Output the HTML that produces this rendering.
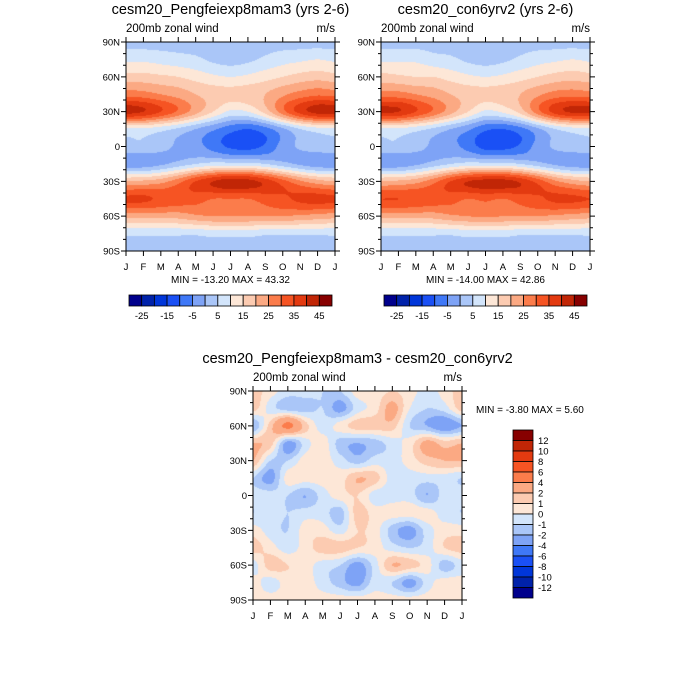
<!DOCTYPE html>
<html><head><meta charset="utf-8"><style>
body{margin:0;background:#fff;}
#wrap{position:relative;width:700px;height:700px;font-family:"Liberation Sans",sans-serif;}
canvas{position:absolute;left:0;top:0;}
svg{position:absolute;left:0;top:0;}
</style></head><body>
<div id="wrap">
<canvas id="cv" width="700" height="700"></canvas>
<svg id="sv" width="700" height="700"></svg>
</div>
<script>
// ---- data ----
const months = ["J","F","M","A","M","J","J","A","S","O","N","D","J"];
const latLabels = ["90N","60N","30N","0","30S","60S","90S"];
const levelsTop = [-25,-20,-15,-10,-5,0,5,10,15,20,25,30,35,40,45];
const levelsDiff = [-12,-10,-8,-6,-4,-2,-1,0,1,2,4,6,8,10,12];
const topBarLabels = ["-25","-15","-5","5","15","25","35","45"];
const diffBarLabels = ["12","10","8","6","4","2","1","0","-1","-2","-4","-6","-8","-10","-12"];
// rows: 90N,75N,...,90S ; columns: Jan..Jan
const fieldA = [
[3,3,3,3,3,3,3,3,3,3,3,3,3],
[9,9,8,7,6,4,3,4,6,8,9,10,9],
[17,17,16,15,13,11,10,11,13,15,17,18,17],
[28,27,25,23,20,18,17,18,20,24,27,29,28],
[42,40,35,29,22,15,9,10,17,28,37,42,42],
[9,9,7,4,0,-4,-8,-10,-7,-1,5,8,9],
[4,4,2,-1,-3,-7,-11,-12,-9,-3,1,3,4],
[-3,-3,-1,2,5,7,7,7,5,2,-1,-3,-3],
[20,21,23,28,35,40,43,42,38,32,26,22,20],
[36,36,34,33,32,30,30,30,32,34,36,37,36],
[22,22,22,22,24,25,25,25,25,25,24,23,22],
[6,6,6,6,6,7,7,7,6,6,6,6,6],
[2,2,2,2,2,2,2,2,2,2,2,2,2]];
const fieldB = [
[3,3,3,3,3,3,3,3,3,3,3,3,3],
[9,9,9,7,6,4,3,4,6,8,9,10,9],
[17,16,15,15,13,11,10,11,13,15,17,18,17],
[27,27,25,23,20,18,17,18,20,24,27,28,27],
[41,40,35,29,22,15,9,11,17,28,37,41,41],
[9,9,7,4,0,-4,-9,-10,-7,-1,5,8,9],
[4,4,2,-1,-3,-7,-12,-12,-9,-3,1,3,4],
[-3,-3,-1,2,5,7,7,7,5,2,-1,-3,-3],
[20,21,23,28,35,40,42,42,39,33,26,22,20],
[35,35,34,33,32,30,31,30,32,34,36,36,35],
[22,22,22,22,24,25,26,25,25,25,24,23,22],
[6,6,6,6,6,7,7,7,6,6,6,6,6],
[2,2,2,2,2,2,2,2,2,2,2,2,2]];
const fieldDiff = [
[1.5,0.5,-0.5,-0.5,-1,-1,0.5,0.5,1,0.5,-0.5,0.5,1.5],
[1.5,-0.5,-1.5,-1.5,-1,-2.5,-0.5,0.5,2.5,0,-1,-0.5,1.5],
[-2,1.5,4.5,1.5,-0.5,0.5,1.5,1.5,1.5,-1,-2,-3,-2],
[2,1.5,-2.5,-0.5,0.5,-1.5,-2,-1.5,-0.5,0.5,2.5,1.5,2],
[2,-1,-1,0.5,0.5,-0.5,-1.5,-0.5,-0.5,0.5,1.5,2,2],
[-1,-2.5,0.5,0.5,0.5,0.5,2,1.5,-0.5,-0.5,-0.5,-0.5,-1],
[-0.5,-0.5,-1,-2,-0.5,0.5,1,-0.5,-0.5,-0.5,-2,-0.5,-0.5],
[-1,-0.5,-1,-0.5,-0.5,-1.5,1.5,0.5,0.5,0.5,0.5,-0.5,-1],
[0.5,-0.5,-1,0.5,0.5,-0.5,1,0.5,-1.5,-2.5,-0.5,0.5,0.5],
[1.5,0.5,-0.5,0.5,1.5,1.5,1,0.5,-0.5,-1,-0.5,1,1.5],
[-0.5,1.5,1,0.5,-0.5,-1,-2.5,-0.5,2,1.5,0.5,-1.5,-0.5],
[0.5,-0.5,0.5,0.5,-0.5,-1.5,-2.5,-0.5,-1,-2.5,-0.5,0.5,0.5],
[0.5,0.5,0.5,0.5,0.5,0.5,0.5,0.5,0.5,0.5,0.5,0.5,0.5]];
const palette = ["#00008c","#0022aa","#0036d9","#1a50f5","#3f78f7","#7ea3f6","#aac6f8","#d3e5fb","#fde7d7","#fccbb1","#fba983","#fb7c4b","#f65423","#e33a10","#c12606","#870000"];

// ---- drawing ----
const cv=document.getElementById('cv'),ctx=cv.getContext('2d');
const sv=document.getElementById('sv');
const NS="http://www.w3.org/2000/svg";
function cr(p0,p1,p2,p3,t){return 0.5*((2*p1)+(-p0+p2)*t+(2*p0-5*p1+4*p2-p3)*t*t+(-p0+3*p1-3*p2+p3)*t*t*t);}
function sample(g,r,c){
  const R=g.length,C=g[0].length;
  const cl=(v,n)=>Math.max(0,Math.min(n-1,v));
  const ri=Math.floor(r),ci=Math.floor(c),tr=r-ri,tc=c-ci;
  const rows=[];
  for(let k=-1;k<=2;k++){
    const row=g[cl(ri+k,R)];
    rows.push(cr(row[cl(ci-1,C)],row[cl(ci,C)],row[cl(ci+1,C)],row[cl(ci+2,C)],tc));
  }
  return cr(rows[0],rows[1],rows[2],rows[3],tr);
}
function colorFor(v,levels){let i=0;while(i<levels.length&&v>=levels[i])i++;return palette[i];}
function drawField(g,levels,x0,y0,w,h){
  const st=1;
  for(let py=0;py<h;py+=st)for(let px=0;px<w;px+=st){
    const r=(py+0.5)/h*(g.length-1),c=(px+0.5)/w*(g[0].length-1);
    ctx.fillStyle=colorFor(sample(g,r,c),levels);
    ctx.fillRect(x0+px,y0+py,st,st);
  }
}
function el(tag,attrs,txt){const e=document.createElementNS(NS,tag);for(const k in attrs)e.setAttribute(k,attrs[k]);if(txt!==undefined)e.textContent=txt;sv.appendChild(e);return e;}
function text(x,y,s,size,anchor,name){
  const t=el('text',{x:x,y:y,'font-size':size,'text-anchor':anchor||'start','font-family':'Liberation Sans, sans-serif',fill:'#000'},s);
  
  
  return t;
}
function axes(x0,y0,w,h,title,prefix){
  const fr=el('rect',{x:x0,y:y0,width:w,height:h,fill:'none',stroke:'#000','stroke-width':1});
  
  
  text(x0+w/2,y0-28,title,14.5,'middle',prefix+'-title');
  text(x0,y0-10,"200mb zonal wind",11.5,'start',prefix+'-subtitle');
  text(x0+w,y0-10,"m/s",11.5,'end',prefix+'-units');
  let d="";
  for(let i=0;i<months.length;i++){
    const x=x0+i*w/12;
    d+=`M${x},${y0+h}v5M${x},${y0}v-5`;
    text(x,y0+h+19,months[i],9.5,'middle',prefix+'-x-tick-label');
  }
  for(let lat=90;lat>=-90;lat-=10){
    const y=y0+(90-lat)/180*h;
    const L=(lat%30===0)?5:3;
    d+=`M${x0},${y}h-${L}M${x0+w},${y}h${L}`;
  }
  for(let i=0;i<latLabels.length;i++){
    text(x0-6,y0+i*h/6+3.5,latLabels[i],9.5,'end',prefix+'-y-tick-label');
  }
  const p=el('path',{d:d,stroke:'#000','stroke-width':1,fill:'none'});
  
  
}
function hbar(x0,y0,w,h,prefix){
  const n=palette.length,bw=w/n;
  for(let i=0;i<n;i++){
    const r=el('rect',{x:x0+i*bw,y:y0,width:bw,height:h,fill:palette[i],stroke:'#000','stroke-width':0.8});
    
    
  }
  for(let j=0;j<topBarLabels.length;j++){
    text(x0+(1+2*j)*bw,y0+h+13,topBarLabels[j],9.5,'middle',prefix+'-colorbar-label');
  }
}
function vbar(x0,y0,w,h){
  const n=palette.length,bh=h/n;
  for(let i=0;i<n;i++){
    const r=el('rect',{x:x0,y:y0+i*bh,width:w,height:bh,fill:palette[n-1-i],stroke:'#000','stroke-width':0.8});
    
    
  }
  for(let j=0;j<diffBarLabels.length;j++){
    text(x0+w+5,y0+(j+1)*bh+3.5,diffBarLabels[j],9.5,'start','diff-colorbar-label');
  }
}
// panel A
drawField(fieldA,levelsTop,126,42,209,209);
axes(126,42,209,209,"cesm20_Pengfeiexp8mam3 (yrs 2-6)","left");
text(230.5,283,"MIN = -13.20 MAX =  43.32",10,'middle','left-min-max');
hbar(129,295,203,11,'left');
// panel B
drawField(fieldB,levelsTop,381,42,209,209);
axes(381,42,209,209,"cesm20_con6yrv2 (yrs 2-6)","right");
text(485.5,283,"MIN = -14.00 MAX =  42.86",10,'middle','right-min-max');
hbar(384,295,203,11,'right');
// diff panel
drawField(fieldDiff,levelsDiff,253,391,209,209);
axes(253,391,209,209,"cesm20_Pengfeiexp8mam3 - cesm20_con6yrv2","diff");
text(476,413,"MIN =  -3.80 MAX =   5.60",10,'start','diff-min-max');
vbar(513,430,20,168);
</script>
</body></html>
